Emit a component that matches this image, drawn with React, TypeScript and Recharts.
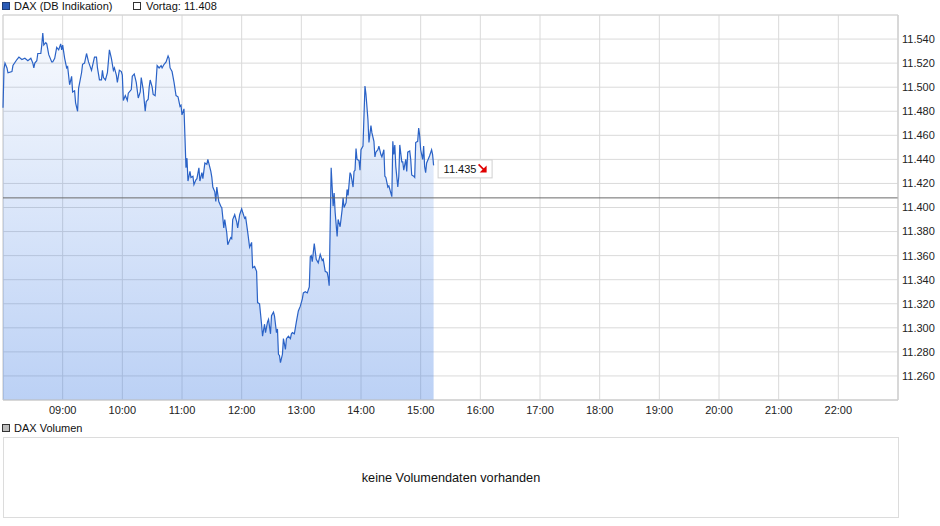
import { ComposedChart, Area, XAxis, YAxis, CartesianGrid, ReferenceLine, ReferenceArea, ReferenceDot } from 'recharts';

// minutes since midnight
const times = [
  480, 481, 482, 484, 485, 489, 490, 494, 496, 499,
  502, 505, 508, 510, 511, 512, 514, 515, 518, 519,
  520, 521, 523, 524, 526, 529, 530, 532, 534, 536,
  538, 539, 540, 542, 544, 545, 547, 549, 550, 552,
  553, 555, 556, 559, 560, 562, 564, 566, 569, 572,
  574, 575, 577, 579, 580, 581, 583, 585, 587, 589,
  591, 592, 594, 595, 597, 599, 600, 601, 603, 605,
  606, 609, 610, 612, 614, 616, 618, 619, 621, 623,
  624, 626, 627, 628, 630, 631, 633, 635, 637, 639,
  640, 642, 644, 646, 647, 648, 650, 652, 654, 656,
  658, 659, 660, 662, 663, 664, 665, 666, 668, 669,
  671, 672, 674, 675, 677, 678, 680, 681, 683, 685,
  686, 689, 690, 691, 693, 694, 695, 697, 699, 700,
  701, 702, 703, 705, 706, 709, 710, 711, 713, 715,
  716, 718, 720, 721, 723, 724, 726, 728, 730, 731,
  733, 735, 736, 738, 740, 741, 743, 744, 746, 747,
  749, 750, 752, 753, 755, 756, 757, 758, 759, 761,
  762, 764, 765, 767, 769, 770, 771, 773, 775, 777,
  779, 781, 782, 784, 786, 788, 789, 790, 791, 793,
  795, 797, 799, 801, 802, 804, 806, 807, 808, 810,
  811, 812, 813, 814, 816, 817, 819, 821, 822, 823,
  825, 826, 827, 829, 830, 832, 833, 834, 835, 836,
  838, 839, 840, 842, 844, 845, 847, 848, 850, 851,
  853, 854, 855, 857, 858, 860, 861, 863, 864, 865,
  867, 868, 869, 871, 872, 873, 874, 875, 877, 878,
  879, 881, 882, 883, 885, 886, 887, 889, 890, 891,
  893, 894, 895, 897, 898, 899, 900, 902, 903, 904,
  905, 906, 908, 909, 911, 912, 913,
];

const prices = [
  11483, 11515, 11520, 11516, 11512, 11513, 11518, 11523, 11525, 11523,
  11524, 11522, 11524, 11520, 11516, 11520, 11522, 11528, 11528, 11535,
  11545, 11535, 11537, 11536, 11527, 11521, 11521, 11524, 11533, 11531,
  11536, 11531, 11535, 11524, 11516, 11517, 11502, 11509, 11496, 11497,
  11487, 11480, 11499, 11512, 11519, 11520, 11528, 11521, 11514, 11525,
  11525, 11516, 11506, 11506, 11514, 11508, 11506, 11512, 11531, 11524,
  11514, 11516, 11510, 11504, 11514, 11513, 11510, 11489, 11493, 11489,
  11495, 11498, 11509, 11511, 11504, 11491, 11496, 11508, 11498, 11480,
  11488, 11490, 11500, 11506, 11500, 11494, 11493, 11518, 11516, 11518,
  11516, 11519, 11521, 11526, 11524, 11516, 11513, 11504, 11493, 11492,
  11484, 11485, 11477, 11482, 11458, 11433, 11441, 11422, 11430, 11425,
  11426, 11419, 11423, 11424, 11433, 11422, 11429, 11424, 11437, 11436,
  11440, 11430, 11425, 11417, 11413, 11405, 11417, 11405, 11401, 11400,
  11392, 11383, 11390, 11379, 11369, 11375, 11374, 11390, 11394, 11388,
  11383, 11394, 11399, 11396, 11391, 11392, 11380, 11367, 11371, 11350,
  11351, 11347, 11321, 11320, 11303, 11293, 11303, 11296, 11305, 11307,
  11295, 11310, 11313, 11310, 11296, 11299, 11278, 11277, 11271, 11278,
  11291, 11282, 11291, 11293, 11291, 11295, 11296, 11295, 11305, 11314,
  11318, 11324, 11329, 11330, 11329, 11334, 11359, 11360, 11355, 11370,
  11357, 11354, 11361, 11356, 11357, 11347, 11346, 11342, 11335, 11433,
  11417, 11401, 11412, 11396, 11376, 11390, 11384, 11398, 11408, 11400,
  11404, 11415, 11410, 11429, 11427, 11417, 11430, 11431, 11449, 11440,
  11439, 11431, 11448, 11451, 11501, 11494, 11473, 11454, 11468, 11462,
  11455, 11442, 11446, 11448, 11451, 11444, 11442, 11448, 11426, 11425,
  11417, 11418, 11415, 11409, 11455, 11444, 11452, 11434, 11417, 11426,
  11452, 11438, 11438, 11431, 11440, 11430, 11446, 11447, 11440, 11427,
  11426, 11425, 11454, 11455, 11466, 11460, 11448, 11440, 11451, 11434,
  11429, 11437, 11441, 11443, 11448, 11444, 11435,
];

const hourTicks = [540, 600, 660, 720, 780, 840, 900, 960, 1020, 1080, 1140, 1200, 1260, 1320];
const priceTicks = [11260, 11280, 11300, 11320, 11340, 11360, 11380, 11400, 11420, 11440, 11460, 11480, 11500, 11520, 11540];
const prevClose = 11408;

const data = times.map((t, i) => ({ t, p: prices[i] }));
const last = data[data.length - 1];

const FONT = '"Liberation Sans", Arial, sans-serif';

const fmtTime = (m: number) =>
  `${String(Math.floor(m / 60)).padStart(2, '0')}:${String(m % 60).padStart(2, '0')}`;
const fmtPrice = (v: number) => `${Math.floor(v / 1000)}.${String(Math.round(v) % 1000).padStart(3, '0')}`;

function LastPriceTag(props: any) {
  const { cx, cy } = props;
  if (cx == null || cy == null) return null;
  return (
    <g>
      <rect x={cx + 4.5} y={cy - 5.5} width={54} height={18} fill="#fff" stroke="#d0d0d0" />
      <text x={cx + 10} y={cy + 7.5} fontSize={11} fontFamily={FONT} fill="#111">
        {fmtPrice(last.p)}
      </text>
      <path d={`M${cx + 45},${cy - 1} L${cx + 51},${cy + 5}`} stroke="#e00000" strokeWidth={1.6} />
      <polygon points={`${cx + 53},${cy + 7} ${cx + 53},${cy} ${cx + 46},${cy + 7}`} fill="#e00000" />
    </g>
  );
}

export default function App() {
  return (
    <div style={{ position: 'relative', width: 940, height: 526, fontFamily: FONT, color: '#111', background: '#fff' }}>
      <style>{'body{margin:0}'}</style>

      <div style={{ position: 'absolute', left: 2, top: 2, width: 8, height: 8, boxSizing: 'border-box', border: '1px solid #1d3d78', background: '#2a5cb8' }} />
      <div style={{ position: 'absolute', left: 14, top: -1, fontSize: 11, lineHeight: '14px' }}>DAX (DB Indikation)</div>
      <div style={{ position: 'absolute', left: 133, top: 2, width: 8, height: 8, boxSizing: 'border-box', border: '1px solid #333', background: '#fff' }} />
      <div style={{ position: 'absolute', left: 146, top: -1, fontSize: 11, lineHeight: '14px' }}>Vortag: {fmtPrice(prevClose)}</div>

      <div style={{ position: 'absolute', left: 0, top: 0 }}>
        <ComposedChart width={940} height={420} data={data} margin={{ top: 15, right: 0, left: 3, bottom: 0 }}>
          <defs>
            <linearGradient id="daxFill" x1="0" y1="0" x2="0" y2="1">
              <stop offset="0%" stopColor="#3273e1" stopOpacity={0.04} />
              <stop offset="100%" stopColor="#3273e1" stopOpacity={0.33} />
            </linearGradient>
          </defs>
          <CartesianGrid stroke="#dadada" />
          <XAxis
            dataKey="t"
            type="number"
            domain={[480, 1380]}
            ticks={hourTicks}
            tickFormatter={fmtTime}
            height={20}
            tickLine={false}
            tickSize={4}
            tickMargin={2}
            axisLine={{ stroke: '#cfcfcf' }}
            tick={{ fontSize: 11, fill: '#222', fontFamily: FONT }}
          />
          <YAxis
            orientation="right"
            type="number"
            domain={[11240, 11560]}
            ticks={priceTicks}
            tickFormatter={fmtPrice}
            width={42}
            tickLine={false}
            tickSize={4}
            tickMargin={0}
            axisLine={{ stroke: '#cfcfcf' }}
            tick={{ fontSize: 11, fill: '#222', fontFamily: FONT, textAnchor: 'start' }}
          />
          <ReferenceArea x1={480} x2={1380} y1={11240} y2={11560} fill="none" stroke="#d4d4d4" />
          <Area
            type="linear"
            dataKey="p"
            stroke="#2a62c6"
            strokeWidth={1.2}
            fill="url(#daxFill)"
            fillOpacity={1}
            dot={false}
            activeDot={false}
            isAnimationActive={false}
          />
          <ReferenceLine y={prevClose} stroke="#6b6b6b" strokeWidth={1} />
          <ReferenceDot x={last.t} y={last.p} r={0} shape={(p: any) => <LastPriceTag {...p} />} />
        </ComposedChart>
      </div>

      <div style={{ position: 'absolute', left: 2, top: 424, width: 8, height: 8, boxSizing: 'border-box', border: '1px solid #333', background: '#bdbdbd' }} />
      <div style={{ position: 'absolute', left: 14, top: 421, fontSize: 11, lineHeight: '14px' }}>DAX Volumen</div>
      <div
        style={{
          position: 'absolute',
          left: 3,
          top: 437,
          width: 896,
          height: 81,
          boxSizing: 'border-box',
          border: '1px solid #dcdcdc',
          display: 'flex',
          alignItems: 'center',
          justifyContent: 'center',
          fontSize: 12.7,
        }}
      >
        keine Volumendaten vorhanden
      </div>
    </div>
  );
}
